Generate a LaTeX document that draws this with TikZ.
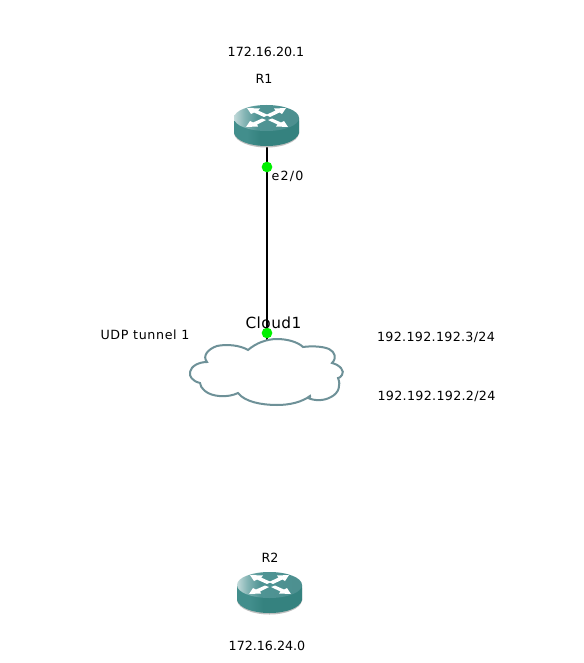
\documentclass[tikz,border=0pt]{standalone}
\usepackage{fontspec}
\setmainfont{DejaVu Sans}
\definecolor{rtop}{HTML}{4F9494}
\definecolor{rside}{HTML}{428E8C}
\definecolor{rdark}{HTML}{35827F}
\definecolor{cloudline}{HTML}{6E9198}
\definecolor{portgreen}{HTML}{00F000}
\pgfdeclarehorizontalshading{rtopshade}{100bp}{color(0bp)=(rtop!35!white); color(50bp)=(rtop!35!white); color(58bp)=(rtop!70!white); color(68bp)=(rtop); color(150bp)=(rtop!92!black)}
\pgfdeclarehorizontalshading{rsideshade}{100bp}{color(0bp)=(rdark); color(30bp)=(rdark); color(45bp)=(rside); color(60bp)=(rside); color(70bp)=(rdark); color(150bp)=(rdark)}
\tikzset{
  x=0.75pt,y=-0.75pt,
  lab/.style={font=\fontsize{9.5pt}{11pt}\selectfont,text=black,inner sep=0pt},
  routerbox/.style={inner sep=0pt,minimum width=48.75pt,minimum height=30.75pt},
  portdot/.style={circle,fill=portgreen,draw=none,minimum size=8pt,inner sep=0pt},
  linkline/.style={draw=black,line width=1.5pt},
  cloudedge/.style={draw=cloudline,line width=1.5pt,fill=white},
  cloudbox/.style={inner sep=0pt,minimum width=115pt,minimum height=50pt},
  rarrow/.style={fill=white,draw=none}
}
% #1 = left x, #2 = top y of the router, 65 x 41 px
\newcommand{\ciscorouter}[2]{%
  \begin{scope}[shift={(#1,#2)}]
    \fill[gray!50] (0,16) -- (0,29) .. controls (2,37) and (16,42.5) .. (32.5,42.5) .. controls (49,42.5) and (63,37) .. (65,29) -- (65,16) -- cycle;
    \path[shading=rsideshade] (0,13) -- (0,28) .. controls (2,36) and (16,41) .. (32.5,41) .. controls (49,41) and (63,36) .. (65,28) -- (65,13) -- cycle;
    \path[shading=rtopshade] (0,13) .. controls (0,5.5) and (15,0) .. (32.5,0) .. controls (50,0) and (65,5.5) .. (65,13) .. controls (65,20.5) and (50,26) .. (32.5,26) .. controls (15,26) and (0,20.5) .. (0,13) -- cycle;
    \fill[rarrow] (13,3) -- (26,3.5) -- (24,5.5) -- (34,10) -- (30,12) -- (20,7.5) -- (17,9) -- cycle;
    \fill[rarrow] (52,3) -- (40,3.5) -- (41.5,5.5) -- (32,10) -- (36,12) -- (45.5,7.5) -- (48,9) -- cycle;
    \fill[rarrow] (12,22) -- (24,21.5) -- (23,19.5) -- (32,15) -- (28,13.5) -- (19,17.5) -- (16,16) -- cycle;
    \fill[rarrow] (54,22) -- (42,21.5) -- (43.5,19.5) -- (34,15) -- (38,13.5) -- (47,17.5) -- (50,16) -- cycle;
  \end{scope}}
\begin{document}
\begin{tikzpicture}
\useasboundingbox (0,0) rectangle (584,663);
\fill[white] (0,0) rectangle (584,663);
\node[routerbox] (r1) at (266.5,125) {};
\node[routerbox] (r2) at (269,593) {};
\node[cloudbox] (cloud) at (267,372) {};
\coordinate (cloudtop) at (267,340);
\draw[linkline] (267,146) -- (cloudtop);
\ciscorouter{234}{105}
\ciscorouter{237}{572}
\draw[cloudedge] (248,350)
  .. controls (256,343) and (267,339) .. (277,339)
  .. controls (287,339) and (298,342) .. (303,347)
  .. controls (310,346) and (322,346) .. (329,349)
  .. controls (335,352) and (337,358) .. (332,363)
  .. controls (340,365) and (345,371) .. (342,375)
  .. controls (341,377) and (339,378) .. (338,378)
  .. controls (341,385) and (339,393) .. (331,397)
  .. controls (324,401) and (315,401) .. (308,398)
  .. controls (311,397) and (310,396) .. (310,396)
  .. controls (302,402) and (290,405) .. (277,405)
  .. controls (262,405) and (245,402) .. (238,393)
  .. controls (228,398) and (212,397) .. (205,391)
  .. controls (202,388) and (200,386) .. (200,383)
  .. controls (192,381) and (189,376) .. (190,372)
  .. controls (191,366) and (199,362) .. (207,362)
  .. controls (202,356) and (208,349) .. (217,346)
  .. controls (226,344) and (240,345) .. (248,350) -- cycle;
\node[portdot] (p1) at (267,167) {};
\node[portdot] (p2) at (267,333) {};
\node[lab] (t1) at (266,51.5) {172.16.20.1};
\node[lab] (t2) at (264,78.5) {R1};
\node[lab] (t3) at (287.5,176.5) {\addfontfeature{LetterSpace=10}e2/0};
\node[lab,font=\fontsize{11.5pt}{13pt}\selectfont] (t4) at (273.5,323) {\addfontfeature{LetterSpace=3}Cloud1};
\node[lab] (t5) at (145,334.5) {\addfontfeature{LetterSpace=5}UDP tunnel 1};
\node[lab] (t6) at (436,337.5) {\addfontfeature{LetterSpace=2.5}192.192.192.3/24};
\node[lab] (t7) at (436.5,396.5) {\addfontfeature{LetterSpace=2.5}192.192.192.2/24};
\node[lab] (t8) at (270,557.5) {R2};
\node[lab] (t9) at (267,645.5) {172.16.24.0};
\end{tikzpicture}
\end{document}
